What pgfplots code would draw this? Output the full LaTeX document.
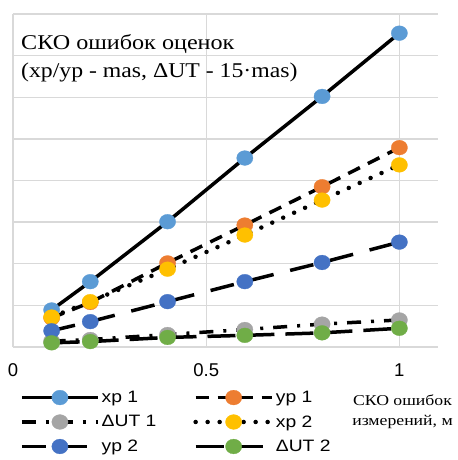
\documentclass[border=0pt]{standalone}
\usepackage{pgfplots}
\pgfplotsset{compat=1.18}
\usepackage{fontspec}
\setmainfont{Liberation Serif}
\newfontfamily\arial{Liberation Sans}
\definecolor{cA}{HTML}{5B9BD5}
\definecolor{cB}{HTML}{ED7D31}
\definecolor{cC}{HTML}{A5A5A5}
\definecolor{cD}{HTML}{FFC000}
\definecolor{cE}{HTML}{4472C4}
\definecolor{cF}{HTML}{70AD47}
\definecolor{gridc}{HTML}{D9D9D9}
\newcommand{\sx}[1]{\scalebox{1.17}[1]{#1}}
\begin{document}
\begin{tikzpicture}
\useasboundingbox (0,-460bp) rectangle (458bp,0);
\begin{axis}[
  at={(13bp,-347bp)}, anchor=south west,
  scale only axis, width=425bp, height=333bp,
  xmin=0, xmax=1.1, ymin=0, ymax=8,
  xtick={0,0.5,1}, ytick={0,1,...,8}, yticklabels={},
  xticklabels={0,0.5,1},
  /pgf/number format/assume math mode=true,
  major tick length=0,
  grid=major, major grid style={draw=gridc, line width=1.3bp},
  axis lines*=left, axis line style={draw=gridc, line width=1.3bp, -},
  tick label style={font=\arial\fontsize{18.5bp}{20bp}\selectfont},
  xticklabel style={yshift=-13bp},
  legend columns=2,
  legend style={draw=none, fill=none, at={(0.0094,-0.12)}, anchor=north west,
     font=\arial\fontsize{16.5bp}{20bp}\selectfont, row sep=7.5bp,
     cells={anchor=west},
     /tikz/every even column/.append style={column sep=35bp}},
  legend cell align=left,
  legend image code/.code={\draw[mark repeat=2,mark phase=2,#1] plot coordinates {(0bp,0bp) (38bp,0bp) (76bp,0bp)};},
  every axis plot/.append style={line width=3.5bp, black, mark=*, mark size=7.4bp},
  clip=false,
]
\addplot[solid, mark options={solid, fill=cA, draw=cA, line width=0.3bp, xscale=1.1}] coordinates {(0.1,0.89)(0.2,1.57)(0.4,3.01)(0.6,4.54)(0.8,6.02)(1,7.54)};
\addlegendentry{\sx{xp 1}}
\addplot[dash pattern=on 13bp off 9bp, mark options={solid, fill=cB, draw=cB, line width=0.3bp, xscale=1.1}] coordinates {(0.1,0.70)(0.2,1.07)(0.4,2.02)(0.6,2.93)(0.8,3.85)(1,4.79)};
\addlegendentry{\sx{yp 1}}
\addplot[dash pattern=on 14bp off 10bp on 3bp off 10bp, mark options={solid, fill=cC, draw=cC, line width=0.3bp, xscale=1.1}] coordinates {(0.1,0.14)(0.2,0.18)(0.4,0.30)(0.6,0.42)(0.8,0.55)(1,0.65)};
\addlegendentry{\sx{ΔUT 1}}
\addplot[line cap=round, line width=4.5bp, dash pattern=on 0bp off 12bp, mark options={solid, fill=cD, draw=cD, line width=0.3bp, xscale=1.1}] coordinates {(0.1,0.72)(0.2,1.09)(0.4,1.87)(0.6,2.69)(0.8,3.53)(1,4.375)};
\addlegendentry{\sx{xp 2}}
\addplot[dash pattern=on 24bp off 17bp, mark options={solid, fill=cE, draw=cE, line width=0.3bp, xscale=1.1}] coordinates {(0.1,0.39)(0.2,0.61)(0.4,1.09)(0.6,1.57)(0.8,2.03)(1,2.52)};
\addlegendentry{\sx{yp 2}}
\addplot[dash pattern=on 28bp off 11bp, mark options={solid, fill=cF, draw=cF, line width=0.3bp, xscale=1.1}] coordinates {(0.1,0.10)(0.2,0.13)(0.4,0.23)(0.6,0.28)(0.8,0.34)(1,0.45)};
\addlegendentry{\sx{ΔUT 2}}
\end{axis}
\node[anchor=base west, font=\fontsize{21bp}{28bp}\selectfont, inner sep=0pt] at (21bp,-49bp) {\scalebox{1.15}[1]{СКО ошибок оценок}};
\node[anchor=base west, font=\fontsize{21bp}{28bp}\selectfont, inner sep=0pt] at (21bp,-77bp) {\scalebox{1.13}[1]{(xp/yp - mas, ΔUT - 15·mas)}};
\node[anchor=base, font=\fontsize{15bp}{20bp}\selectfont, inner sep=0pt] at (402.5bp,-405bp) {\scalebox{1.18}[1]{СКО ошибок}};
\node[anchor=base, font=\fontsize{15bp}{20bp}\selectfont, inner sep=0pt] at (402.5bp,-425bp) {\scalebox{1.18}[1]{измерений, м}};
\end{tikzpicture}
\end{document}
